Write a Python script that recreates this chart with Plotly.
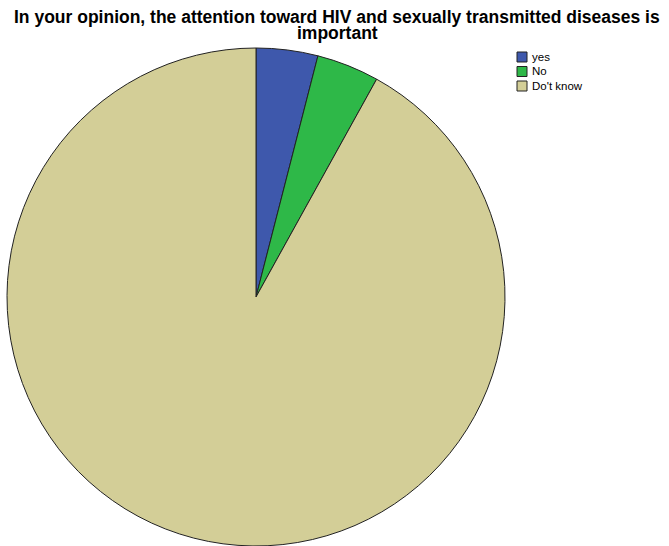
import plotly.graph_objects as go

labels = ["yes", "No", "Do't know"]
values = [4.0, 4.05, 91.95]
colors = ["#3E58AC", "#2EB848", "#D3CE97"]
title_lines = ["In your opinion, the attention toward HIV and sexually transmitted diseases is",
               "important"]

W, H = 669, 546
FONT = "Liberation Sans, Arial, sans-serif"
fig = go.Figure(go.Pie(
    labels=labels, values=values, sort=False, direction="clockwise", rotation=0,
    marker=dict(colors=colors, line=dict(color="#222222", width=1)),
    textinfo="none", hoverinfo="label+percent", showlegend=False,
    domain=dict(x=[7/W, 505/W], y=[0, 1-48/H]),
))

annotations = []
for i, line in enumerate(title_lines):
    annotations.append(dict(text="<b>%s</b>" % line, x=337/W, y=1-(16.5+i*16.5)/H,
                            xref="paper", yref="paper", xanchor="center", yanchor="middle",
                            showarrow=False, font=dict(size=17.5, family=FONT, color="black")))
shapes = []
for i, (lab, col) in enumerate(zip(labels, colors)):
    yc = 57 + i * 14.5
    shapes.append(dict(type="rect", xref="paper", yref="paper",
                       x0=517/W, x1=527/W, y0=1-(yc-5)/H, y1=1-(yc+5)/H,
                       fillcolor=col, line=dict(color="#222222", width=1)))
    annotations.append(dict(text=lab, x=530/W, y=1-yc/H, xref="paper", yref="paper",
                            xanchor="left", yanchor="middle", showarrow=False,
                            font=dict(size=11.5, family=FONT, color="black")))

fig.update_layout(
    width=W, height=H, margin=dict(l=0, r=0, t=0, b=0),
    paper_bgcolor="white", plot_bgcolor="white",
    font=dict(family=FONT, color="black"),
    annotations=annotations, shapes=shapes,
)
fig.write_html("out.html")
